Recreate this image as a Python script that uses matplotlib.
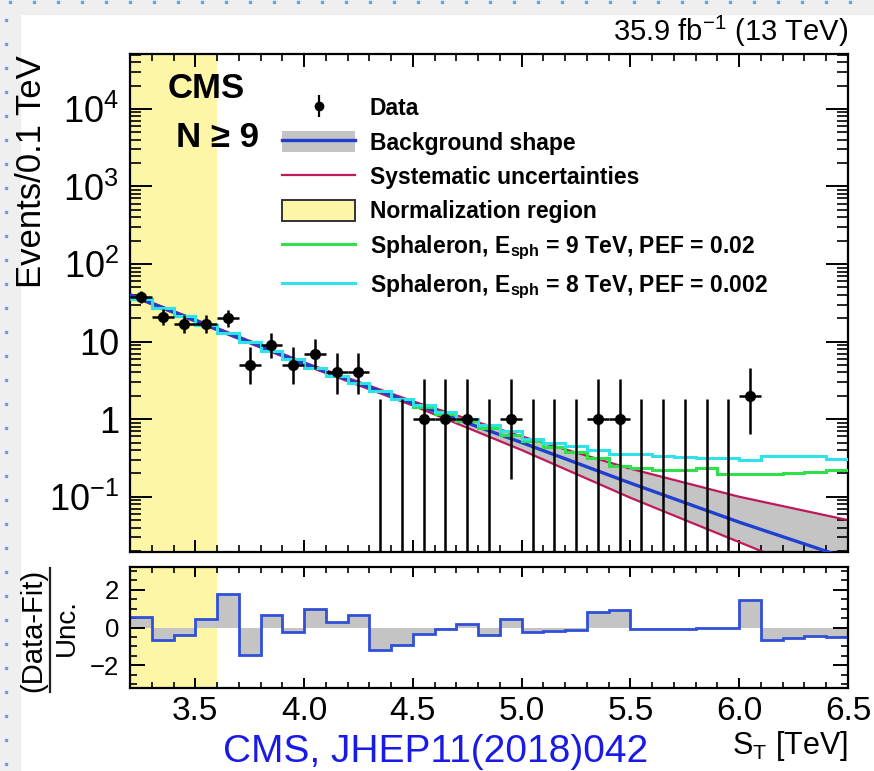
import numpy as np
import matplotlib
matplotlib.use("Agg")
import matplotlib.pyplot as plt
from matplotlib.lines import Line2D
from matplotlib.patches import Patch, Rectangle
from matplotlib.ticker import MultipleLocator, LogLocator, NullFormatter, FixedLocator, FixedFormatter

plt.rcParams['font.family'] = ['Liberation Sans', 'DejaVu Sans']
plt.rcParams['mathtext.fontset'] = 'custom'
plt.rcParams['mathtext.rm'] = 'Liberation Sans'
plt.rcParams['mathtext.it'] = 'Liberation Sans:italic'
plt.rcParams['mathtext.bf'] = 'Liberation Sans:bold'

# 0.1 TeV bins from 3.2 to 6.5 TeV
edges = np.round(np.linspace(3.2, 6.5, 34), 2)
centers = edges[:-1] + 0.05

# observed events (bins 3.2-6.1 TeV) with Poisson interval bounds
data_n = [38, 21, 17, 17, 20, 5, 9, 5, 7, 4, 4, 0, 0, 1, 1, 1, 0, 1, 0, 0, 0,
          1, 1, 0, 0, 0, 0, 0, 2]
data_hi = [45.2, 26.6, 22.2, 22.2, 25.5, 8.4, 13.1, 8.4, 10.8, 7.2, 7.2, 1.84,
           1.84, 3.3, 3.3, 3.3, 1.84, 3.3, 1.84, 1.84, 1.84, 3.3, 3.3, 1.84,
           1.84, 1.84, 1.84, 1.84, 4.6]
data_lo = [31.9, 16.4, 12.9, 12.9, 15.6, 2.8, 6.1, 2.8, 4.4, 2.1, 2.1, 0, 0,
           0, 0, 0, 0, 0.17, 0, 0, 0, 0, 0, 0, 0, 0, 0, 0, 0.65]

# background fit and its systematic envelope
fit_x = [3.2, 3.6, 4.0, 4.5, 5.0, 5.5, 6.0, 6.5]
fit_y = [40, 14.5, 5.2, 1.6, 0.50, 0.15, 0.047, 0.016]
sys_hi = [41, 15, 5.4, 1.7, 0.60, 0.23, 0.10, 0.050]
sys_lo = [39, 14, 5.0, 1.5, 0.40, 0.097, 0.026, 0.007]

# background + sphaleron signal, per bin
sph9 = [35.5, 27.5, 21.3, 16.5, 12.8, 9.9, 7.6, 5.9, 4.6, 3.65, 2.9, 2.3, 1.82,
        1.45, 1.17, 0.95, 0.76, 0.63, 0.52, 0.44, 0.38, 0.32, 0.25, 0.235,
        0.22, 0.22, 0.235, 0.195, 0.195, 0.195, 0.20, 0.21, 0.22]
sph8 = [35.5, 27.5, 21.3, 16.5, 12.8, 9.9, 7.6, 5.9, 4.6, 3.65, 2.9, 2.3, 1.82,
        1.51, 1.23, 1.0, 0.83, 0.71, 0.56, 0.49, 0.45, 0.40, 0.36, 0.355,
        0.34, 0.33, 0.32, 0.32, 0.295, 0.34, 0.34, 0.34, 0.31]

# (data - fit) / uncertainty per bin
pull = [0.53, -0.64, -0.40, 0.44, 1.78, -1.48, 0.65, -0.22, 0.99, 0.31, 0.67,
        -1.17, -0.94, -0.35, -0.06, 0.19, -0.40, 0.46, -0.26, -0.21, -0.13,
        0.82, 0.90, -0.10, -0.08, -0.07, -0.05, -0.03, 1.48, -0.64, -0.55,
        -0.46, -0.49]

norm_region = (3.2, 3.6)

c_yellow = '#fdf6a6'
c_gray = '#c4c4c4'
c_blue = '#1f3fd0'
c_red = '#c0185a'
c_green = '#2ee04a'
c_cyan = '#2ee2ea'

W, H = 874, 771
fig = plt.figure(figsize=(W / 100, H / 100), dpi=100)

# screen border strip
fig.add_artist(Rectangle((0, 1 - 14 / H), 1, 14 / H, transform=fig.transFigure,
                         color='#efefef', zorder=0))
fig.add_artist(Rectangle((0, 0), 20 / W, 1, transform=fig.transFigure,
                         color='#efefef', zorder=0))
dots_x = np.arange(10, W, 24)
dots_y = np.arange(20, H, 24)
fig.add_artist(Line2D(dots_x / W, np.full(len(dots_x), 1 - 2 / H),
                      transform=fig.transFigure, ls='none', marker='s', ms=1.5,
                      color='#6aa0e0'))
fig.add_artist(Line2D(np.full(len(dots_y), 6 / W), 1 - dots_y / H,
                      transform=fig.transFigure, ls='none', marker='s', ms=1.5,
                      color='#6aa0e0'))


def fx(px):
    return px / W


def fy(py):
    return 1 - py / H


ax = fig.add_axes([fx(130), fy(552), fx(848) - fx(130), fy(54) - fy(552)])
ax2 = fig.add_axes([fx(130), fy(688), fx(848) - fx(130), fy(567) - fy(688)])

# ---- upper panel ----
ax.axvspan(*norm_region, color=c_yellow, lw=0, zorder=0)
ax.fill_between(fit_x, sys_lo, sys_hi, color=c_gray, lw=0, zorder=1)
ax.plot(fit_x, sys_hi, color=c_red, lw=1.6, zorder=2)
ax.plot(fit_x, sys_lo, color=c_red, lw=1.6, zorder=2)
ax.plot(fit_x, fit_y, color=c_blue, lw=2.4, zorder=3)
ax.stairs(sph9, edges, baseline=None, color=c_green, lw=2.2, zorder=4)
ax.stairs(sph8, edges, baseline=None, color=c_cyan, lw=2.2, zorder=5)

n = np.array(data_n, float)
xc = centers[:len(n)]
has = n > 0
ax.vlines(xc, np.clip(data_lo, 1e-3, None), data_hi, color='k', lw=1.8, zorder=6)
ax.hlines(n[has], xc[has] - 0.05, xc[has] + 0.05, color='k', lw=1.8, zorder=6)
ax.plot(xc[has], n[has], 'o', color='k', ms=7, zorder=7)

ax.set_xlim(3.2, 6.5)
ax.set_yscale('log')
ax.set_ylim(0.0194, 5.1e4)
ax.yaxis.set_major_locator(FixedLocator([0.1, 1, 10, 100, 1e3, 1e4]))
ax.yaxis.set_major_formatter(FixedFormatter(
    [r'$10^{-1}$', '1', '10', r'$10^{2}$', r'$10^{3}$', r'$10^{4}$']))
ax.yaxis.set_minor_locator(LogLocator(base=10, subs=np.arange(2, 10), numticks=20))
ax.yaxis.set_minor_formatter(NullFormatter())
ax.xaxis.set_major_locator(MultipleLocator(0.5))
ax.xaxis.set_minor_locator(MultipleLocator(0.1))
ax.tick_params(axis='both', which='both', direction='in', top=True, right=True)
ax.tick_params(axis='y', which='major', length=16, width=1.4, labelsize=26, pad=8)
ax.tick_params(axis='y', which='minor', length=8, width=1.2)
ax.tick_params(axis='x', which='major', length=9, width=1.4, labelbottom=False)
ax.tick_params(axis='x', which='minor', length=5, width=1.2)
for s in ax.spines.values():
    s.set_linewidth(1.6)

ax.text(0.053, 0.9116, 'CMS', transform=ax.transAxes, fontsize=25,
        fontweight='bold', va='baseline')
ax.text(0.064, 0.813, 'N ≥ 9', transform=ax.transAxes, fontsize=25,
        fontweight='bold', va='baseline')

h_data = (Line2D([], [], color='k', marker='|', ms=16, mew=1.6, ls='none'),
          Line2D([], [], color='k', marker='o', ms=6, ls='none'))
h_bkg = (Patch(facecolor=c_gray, edgecolor='none'), Line2D([], [], color=c_blue, lw=2.4))
h_sys = Line2D([], [], color=c_red, lw=1.6)
h_norm = Patch(facecolor=c_yellow, edgecolor='#333333', lw=1.4)
h_s9 = Line2D([], [], color=c_green, lw=2.2)
h_s8 = Line2D([], [], color=c_cyan, lw=2.2)
labels = ['Data', 'Background shape', 'Systematic uncertainties',
          'Normalization region',
          r'Sphaleron, E$_{\mathbf{sph}}$ = 9 TeV, PEF = 0.02',
          r'Sphaleron, E$_{\mathbf{sph}}$ = 8 TeV, PEF = 0.002']
leg = ax.legend([h_data, h_bkg, h_sys, h_norm, h_s9, h_s8], labels,
                loc='upper left', bbox_to_anchor=((282 - 130) / 718, (552 - 97) / 498),
                frameon=False, borderpad=0, borderaxespad=0,
                handlelength=3.2, handleheight=1.05, handletextpad=0.62,
                labelspacing=0.47, prop={'size': 16.5, 'weight': 'bold'})

# ---- lower panel ----
ax2.axvspan(*norm_region, color=c_yellow, lw=0, zorder=0)
ax2.stairs(pull, edges, baseline=0, fill=True, color=c_gray, lw=0, zorder=1)
ax2.stairs(pull, edges, baseline=None, color='#3050d8', lw=2.0, zorder=2)
ax2.set_xlim(3.2, 6.5)
ax2.set_ylim(-3.2, 3.2)
ax2.yaxis.set_major_locator(FixedLocator([-2, 0, 2]))
ax2.yaxis.set_major_formatter(FixedFormatter(['\u22122', '0', '2']))
ax2.yaxis.set_minor_locator(MultipleLocator(0.5))
ax2.xaxis.set_major_locator(FixedLocator([3.5, 4.0, 4.5, 5.0, 5.5, 6.0, 6.5]))
ax2.xaxis.set_major_formatter(FixedFormatter(['3.5', '4.0', '4.5', '5.0', '5.5', '6.0', '6.5']))
ax2.xaxis.set_minor_locator(MultipleLocator(0.1))
ax2.tick_params(axis='both', which='both', direction='in', top=True, right=True)
ax2.tick_params(axis='y', which='major', length=11, width=1.4, labelsize=18.5, pad=8)
ax2.tick_params(axis='y', which='minor', length=5, width=1.2)
ax2.tick_params(axis='x', which='major', length=7, width=1.4, labelsize=24, pad=6)
ax2.tick_params(axis='x', which='minor', length=4, width=1.2)
for s in ax2.spines.values():
    s.set_linewidth(1.6)

# ---- titles and labels ----
fig.text(fx(848), fy(41), r'35.9 fb$^{-1}$ (13 TeV)', ha='right', va='baseline', fontsize=21)
fig.text(fx(32), fy(55), 'Events/0.1 TeV', rotation=90, ha='center', va='top', fontsize=25)
fig.text(fx(33), fy(630), '(Data-Fit)', rotation=90, ha='center', va='center', fontsize=21)
fig.text(fx(67), fy(628), 'Unc.', rotation=90, ha='center', va='center', fontsize=20)
fig.add_artist(Line2D([fx(50), fx(50)], [fy(568), fy(692)], transform=fig.transFigure,
                      color='#222222', lw=1.6))
fig.text(fx(848), fy(754), r'S$_{\rm T}$ [TeV]', ha='right', va='baseline', fontsize=22)
fig.text(fx(223), fy(762), 'CMS, JHEP11(2018)042', ha='left', va='baseline',
         fontsize=28, color='#1a1ae6')

fig.savefig('out.png', dpi=100)
